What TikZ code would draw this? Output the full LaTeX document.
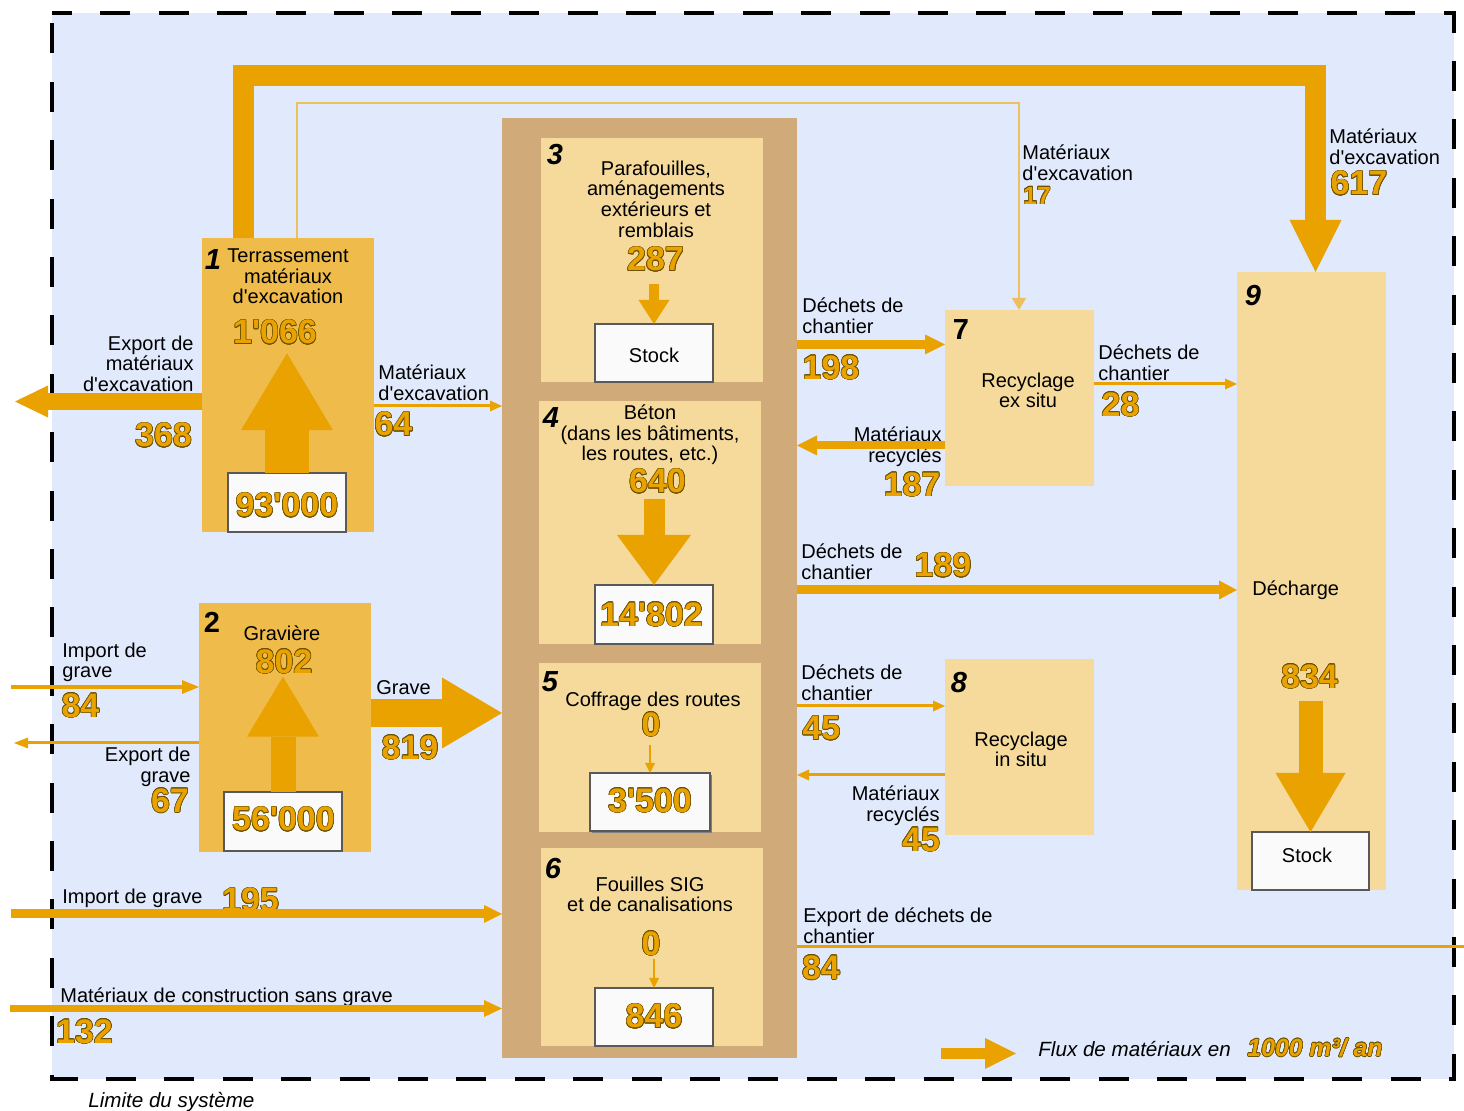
\documentclass[tikz,border=0pt]{standalone}
\usepackage{fontspec}
\setmainfont{Liberation Sans}[Ligatures=TeXOff]
\newfontfamily\numfont{Liberation Sans Bold}[Ligatures=TeXOff]
\newfontfamily\numitfont{Liberation Sans Bold Italic}[Ligatures=TeXOff]
\usepackage{contour}
\contourlength{0.3pt}
\usetikzlibrary{arrows.meta,fit,shadows}
\definecolor{sysbg}{HTML}{E1EAFC}
\definecolor{flowgold}{HTML}{E9A200}
\definecolor{pitgold}{HTML}{EFBB4B}
\definecolor{procbg}{HTML}{F5DA9B}
\definecolor{framebrown}{HTML}{D0AA79}
\definecolor{numedge}{HTML}{6B5100}
\definecolor{excthin}{HTML}{EEBF5E}
\newcommand{\flowval}[1]{{\color{flowgold}\contour{numedge}{#1}}}
\tikzset{
  zone/.style={inner sep=0pt, outer sep=0pt, fill=#1},
  stockbox/.style={inner sep=0pt, outer sep=0pt, draw=black!65, line width=0.8pt, fill=black!2},
  lbl/.style={inner sep=0pt, font=\fontsize{10}{10.3}\selectfont},
  flownum/.style={inner sep=0pt, font=\numfont\fontsize{17}{17}\selectfont},
  boxno/.style={inner sep=0pt, font=\bfseries\itshape\fontsize{14.5}{14.5}\selectfont},
  flowarrow/.style n args={3}{draw=flowgold, line width=#1, -{Triangle[length=#2,width=#3,line width=0pt]}},
  thinflow/.style={flowarrow={1.5pt}{6pt}{5.5pt}}
}
\begin{document}
\begin{tikzpicture}[x=0.5pt,y=-0.5pt]
\useasboundingbox (0,0) rectangle (1464,1111);
\path[fill=sysbg] (52,13) rectangle (1454,1079);
\draw[line width=1.8pt,dash pattern=on 15pt off 14.2pt,dash phase=5pt] (52,13) -- (1454,13) -- (1454,1079) -- (52,1079) -- cycle;

\node[zone=pitgold,fit={(202,238) (374,532)}] (terr) {};
\node[zone=pitgold,fit={(199,603) (371,852)}] (grav) {};
\node[zone=framebrown,fit={(502,118) (797,1058)}] (colbox) {};
\node[zone=procbg,fit={(541,138) (763,382)}] (para) {};
\node[zone=procbg,fit={(539,401) (761,644)}] (beton) {};
\node[zone=procbg,fit={(539,663) (761,832)}] (coff) {};
\node[zone=procbg,fit={(541,848) (763,1046)}] (fouil) {};
\node[zone=procbg,fit={(945,310) (1094,486)}] (rexs) {};
\node[zone=procbg,fit={(945,659) (1094,835)}] (rins) {};
\node[zone=procbg,fit={(1237,272) (1386,890)}] (dech) {};

\node[stockbox,fit={(228,473) (346,532)}] (depA) {};
\node[stockbox,fit={(224,792) (342,851)}] (depB) {};
\node[stockbox,fit={(595,324) (713,382)}] (stockA) {};
\node[stockbox,fit={(595,585) (713,644)}] (stockB) {};
\node[stockbox,drop shadow={shadow xshift=1.2pt,shadow yshift=-1.2pt,fill=black!50,opacity=1},fit={(590,773) (710,831)}] (stockC) {};
\node[stockbox,fit={(595,988) (713,1046)}] (stockD) {};
\node[stockbox,fit={(1252,832) (1369,890)}] (stockE) {};

\node[boxno] (no1) at (213,260) {1};
\node[boxno,font=\bfseries\fontsize{14.5}{14.5}\selectfont] (no2) at (212,622) {2};
\node[boxno] (no3) at (555,155) {3};
\node[boxno] (no4) at (551,418) {4};
\node[boxno] (no5) at (550,682) {5};
\node[boxno] (no6) at (553,869) {6};
\node[boxno,font=\bfseries\fontsize{14.5}{14.5}\selectfont] (no7) at (961,330) {7};
\node[boxno] (no8) at (959,683) {8};
\node[boxno] (no9) at (1253,296) {9};

\node[lbl,align=center,anchor=north] (terrlbl) at (288,248.5) {Terrassement\\matériaux\\d'excavation};
\node[lbl] (gravlbl) at (282,633) {Gravière};
\node[lbl,align=center,anchor=north] (paralbl) at (656,160.5) {Parafouilles,\\aménagements\\extérieurs et\\remblais};
\node[lbl] (stockAtxt) at (654,355) {Stock};
\node[lbl,align=center,anchor=north] (betonlbl) at (650,404.5) {Béton\\(dans les bâtiments,\\les routes, etc.)};
\node[lbl] (cofflbl) at (653,701) {Coffrage des routes};
\node[lbl,align=center,anchor=north] (fouillbl) at (650,876.5) {Fouilles SIG\\et de canalisations};
\node[lbl,align=center,anchor=north] (rexslbl) at (1028,372.5) {Recyclage\\ex situ};
\node[lbl,align=center,anchor=north] (rinslbl) at (1021,731.5) {Recyclage\\in situ};
\node[lbl,anchor=west] (dechlbl) at (1252,590) {Décharge};
\node[lbl] (stockEtxt) at (1307,855) {Stock};

\node[lbl,align=right,anchor=north east] (expmatlbl) at (194,335.5) {Export de\\matériaux\\d'excavation};
\node[lbl,align=left,anchor=north west] (mat64lbl) at (378,364.5) {Matériaux\\d'excavation};
\node[lbl,align=left,anchor=north west] (impgrlbl) at (62,642.5) {Import de\\grave};
\node[lbl,align=right,anchor=north east] (expgrlbl) at (191,747) {Export de\\grave};
\node[lbl,anchor=west] (gravelbl) at (376,688) {Grave};
\node[lbl,anchor=west] (impgr2lbl) at (62,898) {Import de grave};
\node[lbl,anchor=west] (baulbl) at (60,997) {Matériaux de construction sans grave};
\node[lbl,align=left,anchor=north west] (dch198lbl) at (802,297.5) {Déchets de\\chantier};
\node[lbl,align=right,anchor=north east] (rec187lbl) at (942,426.5) {Matériaux\\recyclés};
\node[lbl,align=left,anchor=north west] (dch28lbl) at (1098,344.5) {Déchets de\\chantier};
\node[lbl,align=left,anchor=north west] (mat17lbl) at (1022,144.5) {Matériaux\\d'excavation};
\node[lbl,align=left,anchor=north west] (mat617lbl) at (1329,128.5) {Matériaux\\d'excavation};
\node[lbl,align=left,anchor=north west] (dch189lbl) at (801,543.5) {Déchets de\\chantier};
\node[lbl,align=left,anchor=north west] (dch45lbl) at (801,664.5) {Déchets de\\chantier};
\node[lbl,align=right,anchor=north east] (rec45lbl) at (940,785.5) {Matériaux\\recyclés};
\node[lbl,align=left,anchor=north west] (expdchlbl) at (803,907.5) {Export de déchets de\\chantier};
\node[lbl,anchor=west,font=\itshape\fontsize{10.3}{10.3}\selectfont] (legtxt) at (1038,1049) {Flux de matériaux en};
\node[lbl,anchor=west,font=\itshape\fontsize{10.3}{10.3}\selectfont] (limlbl) at (88,1102) {Limite du système};

\node[flownum] (v1066) at (275,332.5) {\flowval{1'066}};
\node[flownum] (v93000) at (287,505.5) {\flowval{93'000}};
\node[flownum] (v368) at (163.5,435.5) {\flowval{368}};
\node[flownum] (v64) at (393.5,424.5) {\flowval{64}};
\node[flownum] (v802) at (284,662) {\flowval{802}};
\node[flownum] (v56000) at (283.5,819.5) {\flowval{56'000}};
\node[flownum] (v84a) at (80.5,706) {\flowval{84}};
\node[flownum] (v67) at (170,801) {\flowval{67}};
\node[flownum] (v819) at (410,748) {\flowval{819}};
\node[flownum] (v195) at (250.5,900.5) {\flowval{195}};
\node[flownum] (v132) at (84.5,1032) {\flowval{132}};
\node[flownum] (v287) at (655.5,259.5) {\flowval{287}};
\node[flownum] (v640) at (657.5,481.5) {\flowval{640}};
\node[flownum] (v14802) at (651.5,615) {\flowval{14'802}};
\node[flownum] (v0a) at (651,725) {\flowval{0}};
\node[flownum] (v3500) at (650,801) {\flowval{3'500}};
\node[flownum] (v0b) at (651,944) {\flowval{0}};
\node[flownum] (v846) at (654,1016.5) {\flowval{846}};
\node[flownum] (v198) at (831,368) {\flowval{198}};
\node[flownum] (v187) at (912,485) {\flowval{187}};
\node[flownum,font=\numfont\fontsize{12.4}{12.4}\selectfont] (v17) at (1037,196) {\flowval{17}};
\node[flownum] (v617) at (1359,183.5) {\flowval{617}};
\node[flownum] (v28) at (1120.5,405) {\flowval{28}};
\node[flownum] (v189) at (943,565.5) {\flowval{189}};
\node[flownum] (v834) at (1309.5,677) {\flowval{834}};
\node[flownum] (v45a) at (821.5,728.5) {\flowval{45}};
\node[flownum] (v45b) at (921,840) {\flowval{45}};
\node[flownum] (v84b) at (821,968) {\flowval{84}};
\node[flownum,font=\numitfont\fontsize{12.4}{12.4}\selectfont] (legval) at (1315,1048) {\flowval{1000 m³/ an}};

\draw[flowarrow={10.5pt}{26pt}{26pt}] (terr.north -| 243.5,0) -- (243.5,75.5) -- (1315.5,75.5) -- (dech.north -| 1315.5,0);
\draw[draw=excthin,line width=1pt,-{Triangle[length=6pt,width=7pt]}] (terr.north -| 297,0) -- (297,103.5) -- (1019,103.5) -- (rexs.north -| 1019,0);

\coordinate (expmat) at (15,401.5);
\draw[flowarrow={8.5pt}{16.5pt}{16pt}] (terr.west |- expmat) -- (expmat);
\draw[thinflow] (terr.east |- 0,406) -- (colbox.west |- 0,406);
\coordinate (impgrA) at (11,687);
\draw[flowarrow={2.2pt}{8.5pt}{7pt}] (impgrA) -- (grav.west |- impgrA);
\coordinate (expgr) at (14,743);
\draw[flowarrow={1.5pt}{7pt}{5.5pt}] (grav.west |- expgr) -- (expgr);
\draw[flowarrow={14pt}{30pt}{35.5pt}] (grav.east |- 0,713) -- (colbox.west |- 0,713);
\coordinate (impgrB) at (11,914);
\draw[flowarrow={4.5pt}{9pt}{9pt}] (impgrB) -- (colbox.west |- impgrB);
\coordinate (impbau) at (10,1008.5);
\draw[flowarrow={3.2pt}{9pt}{8.5pt}] (impbau) -- (colbox.west |- impbau);

\draw[flowarrow={4.5pt}{10pt}{10pt}] (colbox.east |- 0,344.5) -- (rexs.west |- 0,344.5);
\draw[flowarrow={4pt}{10pt}{10pt}] (rexs.west |- 0,445.5) -- (colbox.east |- 0,445.5);
\draw[thinflow] (rexs.east |- 0,384) -- (dech.west |- 0,384);
\draw[flowarrow={4.5pt}{9pt}{9.5pt}] (colbox.east |- 0,590) -- (dech.west |- 0,590);
\draw[thinflow] (colbox.east |- 0,706) -- (rins.west |- 0,706);
\draw[thinflow] (rins.west |- 0,775) -- (colbox.east |- 0,775);
\coordinate (expdch) at (1464,947);
\draw[draw=flowgold,line width=1.5pt] (colbox.east |- expdch) -- (expdch);

\draw[flowarrow={22pt}{38.5pt}{46pt},shorten >=4pt] (depA.north) -- (v1066.south -| depA.north);
\draw[flowarrow={12.5pt}{30pt}{36pt},shorten >=1pt] (depB.north) -- (v802.south -| depB.north);
\draw[flowarrow={5pt}{12pt}{15.5pt},shorten <=6pt] (v287.south -| stockA.north) -- (stockA.north);
\draw[flowarrow={10.5pt}{25pt}{37pt},shorten <=2.5pt] (v640.south -| stockB.north) -- (stockB.north);
\draw[flowarrow={1pt}{5pt}{5pt},shorten <=3.5pt] (v0a.south -| stockC.north) -- (stockC.north);
\draw[flowarrow={1pt}{5pt}{5pt},shorten <=1pt] (v0b.south -| stockD.north) -- (stockD.north);
\draw[flowarrow={12pt}{29.5pt}{35pt},shorten <=5.5pt] (v834.south -| stockE.north) -- (stockE.north);

\coordinate (legA) at (941,1053.5);
\coordinate (legB) at (1016,1053.5);
\draw[flowarrow={5.5pt}{15.5pt}{15.5pt}] (legA) -- (legB);
\end{tikzpicture}
\end{document}
